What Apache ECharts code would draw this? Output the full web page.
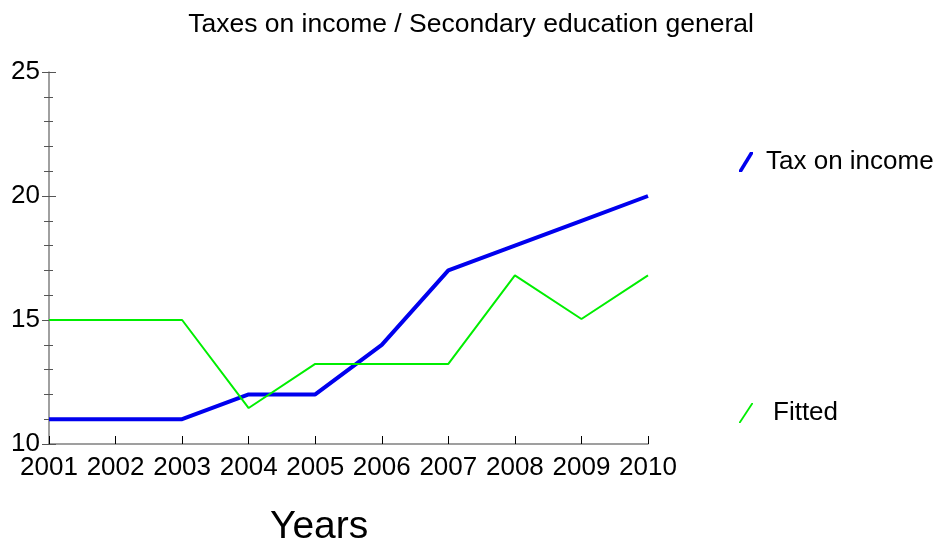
<!DOCTYPE html>
<html><head><meta charset="utf-8">
<script src="https://cdn.jsdelivr.net/npm/echarts@6/dist/echarts.min.js"></script>
<style>html,body{margin:0;padding:0;background:#fff}#c{width:942px;height:549px}</style>
</head><body><div id="c"></div>
<script>
const years = ['2001','2002','2003','2004','2005','2006','2007','2008','2009','2010'];
const taxOnIncome = [11, 11, 11, 12, 12, 14, 17, 18, 19, 20];
const fitted = [15, 15, 15, 11.45, 13.23, 13.23, 13.23, 16.8, 15.04, 16.8];
const titleText = 'Taxes on income / Secondary education general';
const xName = 'Years';

const FONT = 'Liberation Sans';
const slash = 'path://M0,20 L3,20 L14,2 L14,0 L11,0 L0,18 Z';
const chart = echarts.init(document.getElementById('c'));
const axisGray = '#808080';
chart.setOption({
  animation: false,
  title: [
    {text: titleText, left: 'center', top: 6, textStyle: {fontFamily: FONT, fontSize: 26.5, fontWeight: 'normal', color: '#000'}},
    {text: xName, left: 265, top: 503, textStyle: {fontFamily: FONT, fontSize: 39, fontWeight: 'normal', color: '#000'}}
  ],
  legend: [
    {data: ['Tax on income'], left: 734, top: 144, icon: slash, itemWidth: 14, itemHeight: 20, itemGap: 0,
     textStyle: {fontFamily: FONT, fontSize: 26, color: '#000', padding: [0,0,0,8]}},
    {data: ['Fitted'], left: 734, top: 395, icon: 'path://M0,20 L1.5,20 L14,1 L14,0 L12.5,0 L0,19 Z', itemWidth: 14, itemHeight: 20, itemGap: 0,
     textStyle: {fontFamily: FONT, fontSize: 26, color: '#000', padding: [0,0,0,15]}}
  ],
  grid: {left: 49, right: 294, top: 72, bottom: 105},
  xAxis: {
    type: 'category', data: years, boundaryGap: false,
    axisLine: {lineStyle: {color: axisGray, width: 1.5}},
    axisTick: {inside: true, length: 8, interval: 0, lineStyle: {color: '#000', width: 1}},
    axisLabel: {fontFamily: FONT, fontSize: 26, color: '#000', margin: 11, interval: 0}
  },
  yAxis: [
    {type: 'value', min: 10, max: 25, interval: 5,
     axisLine: {show: true, lineStyle: {color: axisGray, width: 1.5}},
     axisTick: {show: true, length: 7, lineStyle: {color: '#555'}},
     minorTick: {show: true, splitNumber: 5, length: 5, lineStyle: {color: '#555'}},
     splitLine: {show: false},
     axisLabel: {fontFamily: FONT, fontSize: 26, color: '#000', margin: 9}},
    {type: 'value', min: 10, max: 25, interval: 5, position: 'left',
     axisLine: {show: false},
     axisTick: {show: true, inside: true, length: 7, lineStyle: {color: '#555'}},
     minorTick: {show: true, splitNumber: 5, length: 4, lineStyle: {color: '#555'}},
     splitLine: {show: false}, axisLabel: {show: false}}
  ],
  series: [
    {name: 'Tax on income', type: 'line', data: taxOnIncome, symbol: 'none', color: '#0000ee',
     lineStyle: {width: 4, color: '#0000ee'}},
    {name: 'Fitted', type: 'line', data: fitted, symbol: 'none', color: '#00ee00',
     lineStyle: {width: 2, color: '#00ee00'}}
  ]
});
</script></body></html>
